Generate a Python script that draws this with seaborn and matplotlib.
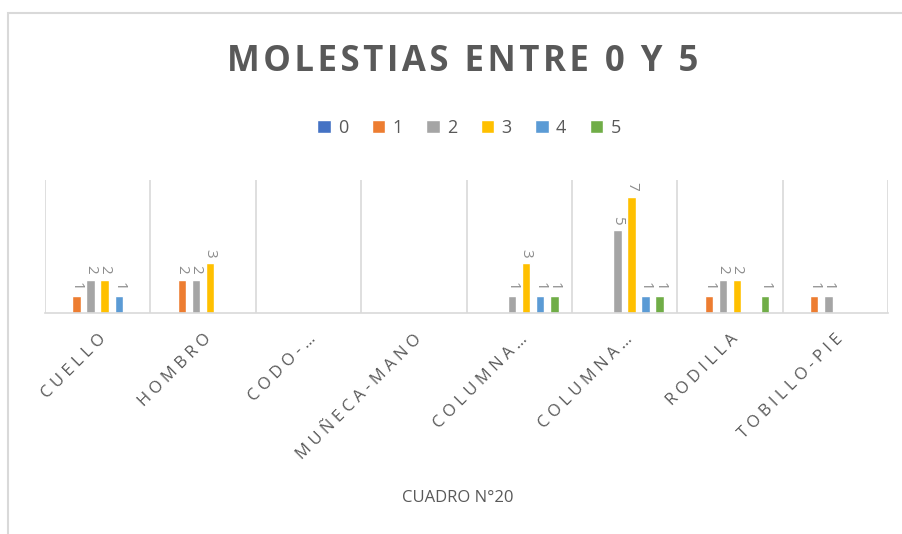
import matplotlib
matplotlib.use("Agg")
import matplotlib.pyplot as plt
import seaborn as sns
import pandas as pd
import numpy as np
from matplotlib.patches import Rectangle

# data
categories = ["CUELLO", "HOMBRO", "CODO-…", "MUÑECA-MANO", "COLUMNA…", "COLUMNA… ", "RODILLA", "TOBILLO-PIE"]
series = ["0", "1", "2", "3", "4", "5"]
v0 = [0, 0, 0, 0, 0, 0, 0, 0]
v1 = [1, 2, 0, 0, 0, 0, 1, 1]
v2 = [2, 2, 0, 0, 1, 5, 2, 1]
v3 = [2, 3, 0, 0, 3, 7, 2, 0]
v4 = [1, 0, 0, 0, 1, 1, 0, 0]
v5 = [0, 0, 0, 0, 1, 1, 1, 0]
colors = ["#4472C4", "#ED7D31", "#A5A5A5", "#FFC000", "#5B9BD5", "#70AD47"]

rows = []
for s, vals in zip(series, [v0, v1, v2, v3, v4, v5]):
    for c, v in zip(categories, vals):
        rows.append({"parte": c, "nivel": s, "n": v})
df = pd.DataFrame(rows)

sns.set_style("white")
plt.rcParams["font.family"] = ["Open Sans", "DejaVu Sans"]
txt = "#595959"

fig = plt.figure(figsize=(9.02, 5.34), dpi=100)
ax = fig.add_axes([45 / 902, 1 - 313 / 534, (888 - 45) / 902, (313 - 180) / 534])

sns.barplot(data=df, x="parte", y="n", hue="nivel", order=categories, hue_order=series,
            palette=colors, gap=0.4, width=0.8, saturation=1, ax=ax, legend=True)

for cont in ax.containers:
    labs = [f"{int(b.get_height())}" if b.get_height() > 0 else "" for b in cont]
    ax.bar_label(cont, labels=labs, rotation=-90, padding=4, color="#8c8c8c", fontsize=11)

ax.set_ylim(0, 8)
ax.set_xlim(-0.5, len(categories) - 0.5)
ax.set_yticks([])
ax.set_ylabel("")
for xg in np.arange(-0.5, len(categories), 1.0):
    ax.axvline(xg, color="#d9d9d9", lw=1.2, zorder=0)
for sp in ["top", "left", "right"]:
    ax.spines[sp].set_visible(False)
ax.spines["bottom"].set_color("#d9d9d9")
ax.spines["bottom"].set_linewidth(1.2)

spaced = [" ".join(list(c.strip())) for c in categories]
ax.set_xticks(range(len(categories)))
ax.set_xticklabels(spaced, rotation=45, ha="right", rotation_mode="anchor", color=txt, fontsize=12)
ax.tick_params(axis="x", length=0, pad=13)
ax.set_xlabel("CUADRO N°20", color=txt, fontsize=12, labelpad=10)
ax.xaxis.set_label_coords(0.49, -1.33)

handles, labels = ax.get_legend_handles_labels()
ax.get_legend().remove()
fig.legend(handles, labels, loc="center", bbox_to_anchor=(0.52, 1 - 128 / 534), ncol=6,
           frameon=False, handlelength=0.75, handleheight=0.75, handletextpad=0.4,
           columnspacing=1.3, fontsize=13, labelcolor=txt)

title = "\u200a".join(list("MOLESTIAS ENTRE 0 Y 5"))
fig.text(0.513, 1 - 62 / 534, title, ha="center", va="center",
         fontsize=25, fontweight="bold", color=txt)

fig.patches.append(Rectangle((8 / 902, -0.1), 1.2, 1 - 13 / 534 + 0.1, transform=fig.transFigure,
                             fill=False, edgecolor="#d9d9d9", lw=1.5))

fig.savefig("out.png", dpi=100)
